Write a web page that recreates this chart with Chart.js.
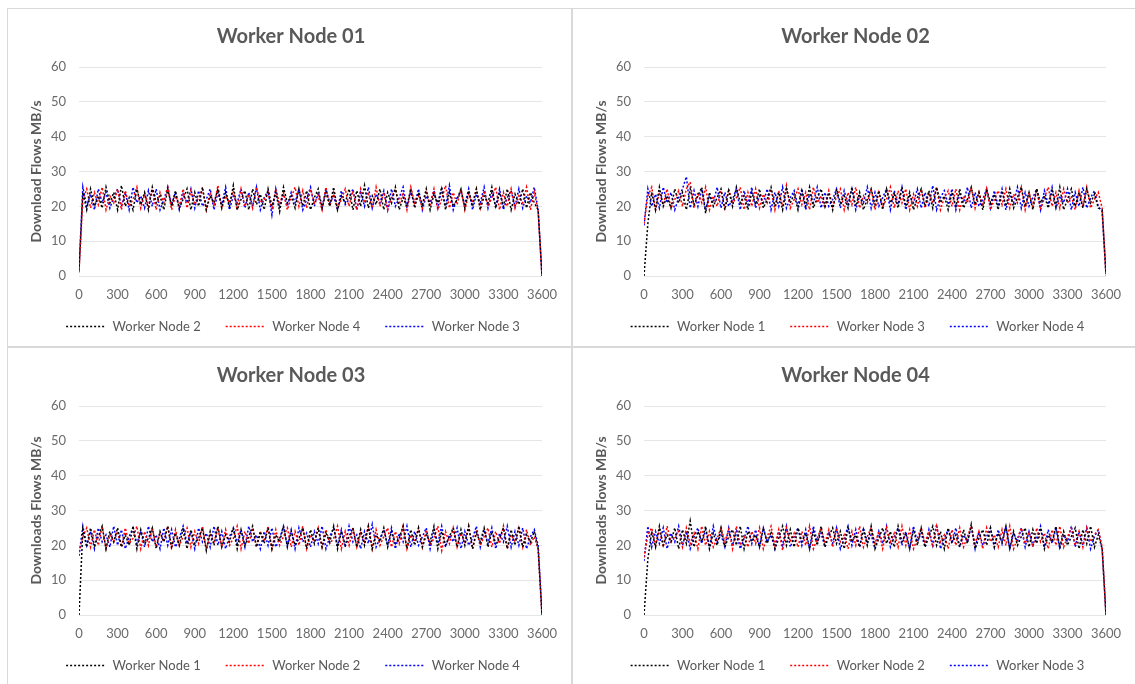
<!DOCTYPE html>
<html lang="en">
<head>
  <meta charset="UTF-8">
  <title>Worker Node Download Flows</title>
  <script src="https://cdn.jsdelivr.net/npm/chart.js"></script>
  <style>
    body { margin: 0; background: #ffffff; }
    .panel {
      position: absolute;
      width: 565px;
      height: 339px;
      box-sizing: border-box;
      border: 1px solid #d9d9d9;
      background: #ffffff;
    }
    .panel.right { width: 564px; }
    .panel canvas { display: block; }
  </style>
</head>
<body>
  <div class="panel" style="left: 7px; top: 8px;"><canvas id="node01" width="563" height="337"></canvas></div>
  <div class="panel right" style="left: 572px; top: 8px;"><canvas id="node02" width="562" height="337"></canvas></div>
  <div class="panel" style="left: 7px; top: 347px;"><canvas id="node03" width="563" height="337"></canvas></div>
  <div class="panel right" style="left: 572px; top: 347px;"><canvas id="node04" width="562" height="337"></canvas></div>

  <script>
    // sample times in seconds
    const times = [
      0, 30, 60, 90, 120, 150, 180, 210, 240, 270,
      300, 330, 360, 390, 420, 450, 480, 510, 540, 570,
      600, 630, 660, 690, 720, 750, 780, 810, 840, 870,
      900, 930, 960, 990, 1020, 1050, 1080, 1110, 1140, 1170,
      1200, 1230, 1260, 1290, 1320, 1350, 1380, 1410, 1440, 1470,
      1500, 1530, 1560, 1590, 1620, 1650, 1680, 1710, 1740, 1770,
      1800, 1830, 1860, 1890, 1920, 1950, 1980, 2010, 2040, 2070,
      2100, 2130, 2160, 2190, 2220, 2250, 2280, 2310, 2340, 2370,
      2400, 2430, 2460, 2490, 2520, 2550, 2580, 2610, 2640, 2670,
      2700, 2730, 2760, 2790, 2820, 2850, 2880, 2910, 2940, 2970,
      3000, 3030, 3060, 3090, 3120, 3150, 3180, 3210, 3240, 3270,
      3300, 3330, 3360, 3390, 3420, 3450, 3480, 3510, 3540, 3570,
      3600
    ];

    // Worker Node 01 panel
    const n01_node2 = [
      1.5, 24, 19, 25, 20, 23, 19.5, 25.5, 21, 24,
      19, 26, 20, 22.5, 19, 25, 20.5, 24, 19, 25.5,
      21, 23, 19, 25, 20, 24.5, 19.5, 22, 25, 19,
      24, 20, 25.5, 19, 23, 21, 25, 19.5, 24, 20,
      26, 19, 22, 24.5, 19, 25, 20.5, 23.5, 19, 25,
      20, 24, 18.5, 25.5, 21, 23, 19.5, 25, 20, 24.5,
      19, 22.5, 25, 19.5, 24, 20, 25.5, 19, 23, 21,
      25, 19, 24.5, 20, 26, 19.5, 23, 20.5, 25, 19,
      24, 21, 25.5, 19, 22.5, 20, 25, 19.5, 24, 20.5,
      25, 19, 23.5, 21, 25.5, 19, 24, 20, 22, 25,
      19.5, 24.5, 20, 25, 19, 23, 21, 25.5, 19.5, 24,
      20, 25, 19, 23.5, 20.5, 25, 19.5, 24, 21, 19,
      0
    ];
    const n01_node4 = [
      1, 22, 25, 19.5, 24, 20.5, 25.5, 19, 23, 21,
      25, 19, 24.5, 20, 22, 25.5, 19.5, 23.5, 20, 25,
      19, 24, 21, 25.5, 19, 23, 20, 25, 19.5, 24.5,
      20.5, 22.5, 25, 19, 24, 20, 26, 19.5, 23, 21,
      24.5, 19, 25, 20, 23.5, 19.5, 25.5, 21, 22, 24,
      19, 25, 20.5, 24, 19, 22.5, 25.5, 20, 24.5, 19.5,
      25, 21, 23, 19, 25.5, 20, 24, 19.5, 22, 25,
      20, 24.5, 19, 25, 21, 23.5, 19.5, 25.5, 20, 24,
      19, 22.5, 25, 20.5, 24, 19, 25.5, 21, 23, 19.5,
      24.5, 20, 25, 19, 22, 26, 19.5, 24, 20.5, 25,
      19, 23.5, 21, 25, 19.5, 24.5, 20, 22.5, 25.5, 19,
      24, 20, 25, 19.5, 23, 21, 25.5, 19, 24, 18.5,
      0
    ];
    const n01_node3 = [
      2, 25.5, 20, 23.5, 19, 25, 21, 24, 19.5, 22.5,
      25, 20, 24, 19, 25.5, 21, 23, 19.5, 24.5, 20,
      25, 19, 22, 25.5, 20.5, 24, 19, 23.5, 21, 25,
      19.5, 24.5, 20, 22, 25, 19, 24, 20.5, 25.5, 19,
      23, 21, 25, 19.5, 24, 20, 25.5, 19, 22.5, 24.5,
      17.5, 25, 19.5, 23.5, 20, 24, 21, 25, 19, 22,
      25.5, 20, 24, 19.5, 25, 21, 23, 19, 24.5, 20.5,
      22, 25, 19, 24, 20, 25.5, 19.5, 23.5, 21, 24.5,
      19, 25, 20, 22.5, 25.5, 19.5, 24, 20.5, 25, 19,
      23, 21, 24.5, 19.5, 25, 20, 26, 19, 22.5, 24,
      20.5, 25, 19, 23.5, 21, 25.5, 19.5, 24, 20, 25,
      19, 22.5, 24.5, 20, 25, 19.5, 23, 21, 25.5, 19,
      0
    ];

    // Worker Node 02 panel
    const n02_node1 = [
      0, 15, 24, 19, 25.5, 20, 23, 19.5, 25, 21,
      24, 19, 25, 20.5, 23, 25.5, 18, 24, 20, 22.5,
      25, 19, 24.5, 20, 25.5, 21, 23, 19, 24, 20.5,
      25, 19.5, 22, 25.5, 20, 24, 19, 25, 21, 23.5,
      19, 24.5, 20, 25.5, 19.5, 22.5, 25, 20, 24, 19,
      25, 21, 23, 19.5, 25.5, 20, 24, 19, 22, 25,
      20.5, 24.5, 19, 25, 21, 23.5, 19.5, 25.5, 20, 24,
      19, 22.5, 25, 20, 24.5, 19.5, 25.5, 21, 23, 19,
      24, 20, 25, 19.5, 22, 25.5, 20.5, 24, 19, 25,
      21, 23.5, 19, 24.5, 20, 25, 19.5, 22.5, 25.5, 20,
      24, 19, 25, 21, 23, 19.5, 24.5, 20, 25.5, 19,
      22, 25, 20, 24, 19.5, 25, 21, 23.5, 19.5, 19,
      0.5
    ];
    const n02_node3 = [
      15, 23, 25.5, 19, 24, 20.5, 25, 19.5, 22, 24.5,
      20, 25, 27, 19.5, 24, 21, 25.5, 19, 23, 20,
      24.5, 19.5, 25, 21, 22.5, 25.5, 19, 24, 20, 25,
      19.5, 23.5, 21, 25, 19, 24.5, 20, 26, 19.5, 22,
      25, 20.5, 24, 19, 25.5, 21, 23, 19.5, 24.5, 20,
      22.5, 25, 19, 24, 20.5, 25.5, 19.5, 23, 21, 25,
      19, 24, 20, 22, 25.5, 19.5, 24.5, 21, 25, 19,
      23.5, 20, 25, 19.5, 24, 21, 25.5, 19, 22.5, 24.5,
      20, 25, 19, 23, 21, 25.5, 19.5, 24, 20, 25,
      19, 22, 24.5, 20.5, 25, 19.5, 23.5, 21, 25.5, 19,
      24, 20, 25, 19, 22.5, 25.5, 20, 24, 19.5, 25,
      21, 23, 19, 24.5, 20, 25.5, 19.5, 22, 24, 19.5,
      0
    ];
    const n02_node4 = [
      14.5, 25, 20, 23.5, 19.5, 25.5, 21, 24, 19, 22.5,
      25, 28.5, 19.5, 24.5, 20, 25, 19, 23, 21, 25.5,
      19.5, 24, 20, 22, 25, 19, 24.5, 20.5, 25.5, 19.5,
      23, 21, 25, 19, 24, 20, 25.5, 19.5, 22.5, 24.5,
      20, 25, 19, 23.5, 21, 25.5, 19.5, 24, 20, 22,
      25, 19.5, 24.5, 20.5, 25, 19, 23, 21, 25.5, 19.5,
      24, 20, 22.5, 25, 19, 24.5, 20.5, 25.5, 19, 23,
      21, 25, 19.5, 24, 20, 26, 19, 22.5, 24.5, 20.5,
      25, 19, 23.5, 21, 25.5, 19.5, 24, 20, 22, 25,
      19.5, 24.5, 20, 25, 19, 23, 21, 25.5, 19.5, 24,
      20, 22.5, 25, 19, 24.5, 20.5, 25.5, 19.5, 23, 21,
      25, 19, 24, 20, 25.5, 19.5, 22.5, 24.5, 20, 18.5,
      0.5
    ];

    // Worker Node 03 panel
    const n03_node1 = [
      0, 24.5, 19.5, 25, 20, 22.5, 25.5, 19, 24, 21,
      25, 19.5, 23, 20, 25.5, 19, 24.5, 20.5, 22, 25,
      19, 24, 21, 25.5, 19.5, 23.5, 20, 25, 19, 24.5,
      20.5, 22, 25, 18.5, 24, 20, 25.5, 19.5, 23, 21,
      25, 19, 24.5, 20, 22.5, 25.5, 19.5, 24, 20.5, 25,
      19, 23, 21, 25.5, 19.5, 24, 20, 22, 25, 19,
      24.5, 20.5, 25, 19.5, 23.5, 21, 25.5, 19, 24, 20,
      22.5, 25, 19.5, 24.5, 20, 25.5, 19, 23, 21, 25,
      19.5, 24, 20.5, 22, 25.5, 19, 24.5, 20, 25, 19.5,
      23, 21, 25.5, 19, 24, 20, 22.5, 25, 19.5, 24.5,
      20, 25.5, 19, 23.5, 21, 25, 19.5, 24, 20.5, 22,
      25, 19, 24.5, 20, 25.5, 19.5, 23, 21, 24, 19,
      0
    ];
    const n03_node2 = [
      18, 22.5, 25, 19.5, 24.5, 20, 25.5, 19, 23, 21,
      24, 19.5, 25, 20.5, 22, 25.5, 19, 24, 20, 25,
      19.5, 23.5, 21, 25.5, 19, 24.5, 20, 22.5, 25, 19.5,
      24, 20.5, 25.5, 19, 23, 21, 25, 19.5, 24.5, 20,
      22, 25.5, 19, 24, 20.5, 25, 19.5, 23.5, 21, 25.5,
      19, 24.5, 20, 22.5, 25, 19.5, 24, 20, 25.5, 19,
      23, 21, 25, 19.5, 24.5, 20.5, 22, 25.5, 19, 24,
      20, 25, 19.5, 23.5, 21, 25.5, 19, 24.5, 20, 22.5,
      25, 19.5, 24, 20.5, 25.5, 19, 23, 21, 25, 19.5,
      24.5, 20, 22, 25.5, 18.5, 24, 20.5, 25, 19.5, 23.5,
      21, 25.5, 19, 24.5, 20, 22.5, 25, 19.5, 24, 20.5,
      25.5, 19, 23, 21, 25, 19.5, 24.5, 20, 22.5, 19,
      0
    ];
    const n03_node4 = [
      17, 25.5, 20, 24, 19, 25, 21, 23, 19.5, 25.5,
      20, 24.5, 19, 22.5, 25, 20.5, 24, 19.5, 25.5, 21,
      23, 19, 25, 20, 24.5, 19.5, 22, 25.5, 20.5, 24,
      19, 25, 21, 23.5, 19.5, 25.5, 20, 24, 19, 22.5,
      25, 20.5, 24.5, 19.5, 25.5, 21, 23, 19, 24, 20,
      25, 19.5, 22, 25.5, 20, 24.5, 19, 25, 21, 23.5,
      19.5, 24, 20.5, 25.5, 19, 22.5, 25, 20, 24.5, 19.5,
      25.5, 21, 23, 19, 24, 20.5, 26, 19.5, 22, 24.5,
      20, 25, 19, 23.5, 21, 25.5, 19.5, 24, 20, 22.5,
      25, 19, 24.5, 20.5, 25.5, 19.5, 23, 21, 25, 19,
      24, 20, 22, 25.5, 19.5, 24.5, 20.5, 25, 19, 23.5,
      21, 25.5, 19.5, 24, 20, 25, 19, 22.5, 24.5, 20,
      0
    ];

    // Worker Node 04 panel
    const n04_node1 = [
      0, 16, 24, 19.5, 25.5, 20, 23, 21, 25, 19,
      24.5, 20.5, 27, 19.5, 24, 21, 25.5, 19, 23.5, 20,
      25, 19.5, 22.5, 24.5, 20, 25.5, 19, 24, 21, 23,
      19.5, 25, 20.5, 24, 19, 22, 25.5, 20, 24.5, 19.5,
      25, 21, 23.5, 19, 24, 20, 25.5, 19.5, 22.5, 25,
      20.5, 24, 19, 25, 21, 23, 19.5, 24.5, 20, 25.5,
      19, 22, 25, 20.5, 24, 19.5, 25.5, 21, 23.5, 19,
      24.5, 20, 25, 19.5, 22.5, 25.5, 20, 24, 19, 25,
      21, 23, 19.5, 24.5, 20.5, 26, 19, 22, 24.5, 20,
      25, 19.5, 23.5, 21, 25.5, 19, 24, 20, 22.5, 25,
      19.5, 24.5, 20.5, 25, 19, 23, 21, 25.5, 19.5, 24,
      20, 22.5, 25, 19, 24.5, 20.5, 25.5, 19.5, 23, 19,
      0
    ];
    const n04_node2 = [
      16.5, 23, 25, 20, 24.5, 19.5, 25.5, 21, 22.5, 24,
      19.5, 25, 20.5, 23.5, 19, 25.5, 20, 24, 19.5, 22,
      25, 21, 24.5, 19, 25.5, 20, 23, 19.5, 24, 20.5,
      25, 19, 22.5, 25.5, 20, 24.5, 18.5, 25, 21, 23.5,
      19.5, 24, 20, 25.5, 19, 22, 25, 20.5, 24.5, 19.5,
      25, 21, 23, 19, 24, 20, 25.5, 19.5, 22.5, 25,
      20.5, 24, 19, 25, 21, 23.5, 19.5, 25.5, 20, 24.5,
      19, 22, 25, 20.5, 24, 19.5, 25.5, 21, 23, 19,
      24.5, 20, 25, 19.5, 22.5, 25.5, 20.5, 24, 19, 25,
      21, 23, 19.5, 24.5, 20, 25.5, 19, 22, 25, 20.5,
      24, 19.5, 25, 21, 23.5, 19, 24.5, 20, 25.5, 19.5,
      22.5, 25, 20, 24, 19.5, 25, 21, 23, 24.5, 19.5,
      0
    ];
    const n04_node3 = [
      15.5, 25.5, 19.5, 24, 20.5, 25, 19, 23.5, 21, 25.5,
      20, 24, 19, 22.5, 25, 20.5, 24.5, 19.5, 25.5, 21,
      23, 19.5, 25, 20, 24, 19, 22, 25.5, 20.5, 24.5,
      19.5, 25, 21, 23, 19, 24, 20, 25.5, 19.5, 22.5,
      25, 20, 24.5, 19, 25.5, 21, 23.5, 19.5, 24, 20.5,
      25, 19, 22, 25.5, 20, 24.5, 19.5, 25, 21, 23,
      19, 24, 20.5, 25.5, 19.5, 22.5, 25, 20, 24, 19,
      25.5, 21, 23.5, 19.5, 24.5, 20, 26, 19, 22, 24.5,
      20.5, 25, 19.5, 23, 21, 25.5, 19, 24, 20, 22.5,
      25, 19.5, 24.5, 20.5, 25.5, 19, 23.5, 21, 25, 19.5,
      24, 20, 22, 25.5, 19.5, 24.5, 20.5, 25, 19, 23,
      21, 25.5, 19.5, 24, 20, 25, 19, 22.5, 24.5, 19,
      0
    ];

    const seriesColors = ['#000000', '#ff0000', '#0000ff'];
    const textColor = '#595959';
    const tickColor = '#6b6b6b';
    const fontFamily = 'Lato, "Open Sans", sans-serif';

    // nudge title and legend so they sit like the original: centred on the
    // panel, legend a bit closer to the axis labels
    const nudgeBlocks = {
      id: 'nudgeBlocks',
      afterLayout: function(chart) {
        const lg = chart.legend;
        lg.top -= 8; lg.bottom -= 8;
        lg.left += 9; lg.right += 9;
        const tb = chart.titleBlock;
        tb.left += 7; tb.right += 7;
      }
    };

    function makeChart(canvasId, title, yTitle, names, seriesList) {
      const datasets = seriesList.map(function(values, i) {
        return {
          label: names[i],
          data: values.map(function(v, k) { return { x: times[k], y: v }; }),
          borderColor: seriesColors[i],
          backgroundColor: seriesColors[i],
          borderWidth: 1.5,
          borderDash: [2, 2],
          pointRadius: 0,
          fill: false,
          tension: 0
        };
      });

      new Chart(document.getElementById(canvasId).getContext('2d'), {
        type: 'line',
        data: { datasets: datasets },
        plugins: [nudgeBlocks],
        options: {
          responsive: false,
          animation: false,
          layout: { padding: { left: 18, right: 29, bottom: -5 } },
          scales: {
            x: {
              type: 'linear',
              min: 0,
              max: 3600,
              ticks: {
                stepSize: 300,
                color: tickColor,
                font: { family: fontFamily, size: 13 },
                padding: 11,
                maxRotation: 0,
                callback: function(value) { return String(value); }
              },
              grid: { display: false, drawTicks: false },
              border: { display: false },
              afterFit: function(scale) { scale.height = 27; }
            },
            y: {
              min: 0,
              max: 60,
              ticks: {
                stepSize: 10,
                color: tickColor,
                font: { family: fontFamily, size: 13 },
                padding: 13
              },
              grid: { color: '#e6e6e6', drawTicks: false },
              border: { display: false },
              title: {
                display: true,
                text: yTitle,
                color: textColor,
                font: { family: fontFamily, size: 14, weight: 'bold' },
                padding: 2
              },
              afterFit: function(scale) { scale.width = 53; }
            }
          },
          plugins: {
            title: {
              display: true,
              text: title,
              color: textColor,
              font: { family: fontFamily, size: 20, weight: 'bold' },
              padding: { top: 16, bottom: 18 }
            },
            legend: {
              position: 'bottom',
              labels: {
                usePointStyle: true,
                pointStyle: 'line',
                pointStyleWidth: 40,
                padding: 25,
                color: textColor,
                font: { family: fontFamily, size: 13 },
                generateLabels: function(chart) {
                  const items = Chart.defaults.plugins.legend.labels.generateLabels(chart);
                  items.forEach(function(item, i) {
                    item.lineDash = [2, 2];
                    item.lineWidth = 1.5;
                    item.strokeStyle = seriesColors[i];
                  });
                  return items;
                }
              }
            },
            tooltip: { enabled: false }
          }
        }
      });
    }

    makeChart('node01', 'Worker Node 01', 'Download Flows MB/s',
      ['Worker Node 2', 'Worker Node 4', 'Worker Node 3'], [n01_node2, n01_node4, n01_node3]);
    makeChart('node02', 'Worker Node 02', 'Download Flows MB/s',
      ['Worker Node 1', 'Worker Node 3', 'Worker Node 4'], [n02_node1, n02_node3, n02_node4]);
    makeChart('node03', 'Worker Node 03', 'Downloads Flows MB/s',
      ['Worker Node 1', 'Worker Node 2', 'Worker Node 4'], [n03_node1, n03_node2, n03_node4]);
    makeChart('node04', 'Worker Node 04', 'Downloads Flows MB/s',
      ['Worker Node 1', 'Worker Node 2', 'Worker Node 3'], [n04_node1, n04_node2, n04_node3]);
  </script>
</body>
</html>
